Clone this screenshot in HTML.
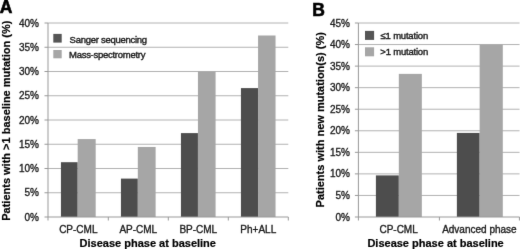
<!DOCTYPE html>
<html><head><meta charset="utf-8"><style>
html,body{margin:0;padding:0;background:#fff;width:520px;height:249px;overflow:hidden}
svg{display:block}
text{font-family:"Liberation Sans",sans-serif;fill:#1c1c1c}
.tk{font-size:10px;stroke:#1c1c1c;stroke-width:0.35px}
.lg{font-size:9.5px;letter-spacing:-0.27px;stroke:#1c1c1c;stroke-width:0.4px}
.lgb{font-size:9.5px;letter-spacing:-0.2px;stroke:#1c1c1c;stroke-width:0.4px}
.ti{font-size:11px;font-weight:bold;fill:#000;stroke:#000;stroke-width:0.2px}
.pl{font-size:17.5px;font-weight:bold;fill:#000;stroke:#000;stroke-width:0.6px}
</style></head><body>
<svg width="520" height="249" viewBox="0 0 520 249">
<defs><filter id="bl" x="0" y="0" width="520" height="249" filterUnits="userSpaceOnUse" color-interpolation-filters="sRGB"><feConvolveMatrix order="3" kernelMatrix="0.0052 0.0619 0.0052 0.0619 0.7314 0.0619 0.0052 0.0619 0.0052" divisor="1" edgeMode="duplicate"/></filter></defs>
<rect width="520" height="249" fill="#fff"/>
<g filter="url(#bl)">
<rect width="520" height="249" fill="#fff"/>
<line x1="48.0" y1="23.00" x2="288.3" y2="23.00" stroke="#b2b2b2"/>
<line x1="44.5" y1="23.00" x2="48.0" y2="23.00" stroke="#999999"/>
<text x="39" y="26.60" text-anchor="end" class="tk">40%</text>
<line x1="48.0" y1="47.25" x2="288.3" y2="47.25" stroke="#b2b2b2"/>
<line x1="44.5" y1="47.25" x2="48.0" y2="47.25" stroke="#999999"/>
<text x="39" y="50.85" text-anchor="end" class="tk">35%</text>
<line x1="48.0" y1="71.50" x2="288.3" y2="71.50" stroke="#b2b2b2"/>
<line x1="44.5" y1="71.50" x2="48.0" y2="71.50" stroke="#999999"/>
<text x="39" y="75.10" text-anchor="end" class="tk">30%</text>
<line x1="48.0" y1="95.75" x2="288.3" y2="95.75" stroke="#b2b2b2"/>
<line x1="44.5" y1="95.75" x2="48.0" y2="95.75" stroke="#999999"/>
<text x="39" y="99.35" text-anchor="end" class="tk">25%</text>
<line x1="48.0" y1="120.00" x2="288.3" y2="120.00" stroke="#b2b2b2"/>
<line x1="44.5" y1="120.00" x2="48.0" y2="120.00" stroke="#999999"/>
<text x="39" y="123.60" text-anchor="end" class="tk">20%</text>
<line x1="48.0" y1="144.25" x2="288.3" y2="144.25" stroke="#b2b2b2"/>
<line x1="44.5" y1="144.25" x2="48.0" y2="144.25" stroke="#999999"/>
<text x="39" y="147.85" text-anchor="end" class="tk">15%</text>
<line x1="48.0" y1="168.50" x2="288.3" y2="168.50" stroke="#b2b2b2"/>
<line x1="44.5" y1="168.50" x2="48.0" y2="168.50" stroke="#999999"/>
<text x="39" y="172.10" text-anchor="end" class="tk">10%</text>
<line x1="48.0" y1="192.75" x2="288.3" y2="192.75" stroke="#b2b2b2"/>
<line x1="44.5" y1="192.75" x2="48.0" y2="192.75" stroke="#999999"/>
<text x="39" y="196.35" text-anchor="end" class="tk">5%</text>
<line x1="44.5" y1="217.00" x2="48.0" y2="217.00" stroke="#999999"/>
<text x="39" y="220.60" text-anchor="end" class="tk">0%</text>
<rect x="60.94" y="162.20" width="16.74" height="54.80" fill="#4d4d4d"/>
<rect x="77.68" y="139.07" width="18.00" height="77.93" fill="#a6a6a6"/>
<text x="78.30" y="233" text-anchor="middle" class="tk">CP-CML</text>
<rect x="120.94" y="178.60" width="16.87" height="38.40" fill="#4d4d4d"/>
<rect x="137.81" y="146.95" width="17.82" height="70.05" fill="#a6a6a6"/>
<text x="138.30" y="233" text-anchor="middle" class="tk">AP-CML</text>
<rect x="180.94" y="133.10" width="17.00" height="83.90" fill="#4d4d4d"/>
<rect x="197.94" y="71.50" width="17.64" height="145.50" fill="#a6a6a6"/>
<text x="198.30" y="233" text-anchor="middle" class="tk">BP-CML</text>
<rect x="240.94" y="88.10" width="17.13" height="128.90" fill="#4d4d4d"/>
<rect x="258.07" y="35.50" width="17.46" height="181.50" fill="#a6a6a6"/>
<text x="258.30" y="233" text-anchor="middle" class="tk">Ph+ALL</text>
<line x1="48.00" y1="217.0" x2="48.00" y2="220.5" stroke="#999999"/>
<line x1="108.30" y1="217.0" x2="108.30" y2="220.5" stroke="#999999"/>
<line x1="168.30" y1="217.0" x2="168.30" y2="220.5" stroke="#999999"/>
<line x1="228.30" y1="217.0" x2="228.30" y2="220.5" stroke="#999999"/>
<line x1="288.30" y1="217.0" x2="288.30" y2="220.5" stroke="#999999"/>
<line x1="48.0" y1="23.0" x2="48.0" y2="217.0" stroke="#999999"/>
<line x1="48.0" y1="217.0" x2="288.3" y2="217.0" stroke="#999999"/>
<rect x="53.3" y="33.9" width="8.4" height="8.7" fill="#555"/>
<rect x="53.3" y="50" width="8.4" height="8.3" fill="#a6a6a6"/>
<text x="69.6" y="42.8" class="lg">Sanger sequencing</text>
<text x="69.0" y="58.3" class="lg">Mass-spectrometry</text>
<text x="79.6" y="246.9" class="ti">Disease phase at baseline</text>
<text transform="translate(10.4,120.7) rotate(-90)" text-anchor="middle" class="ti">Patients with &gt;1 baseline mutation (%)</text>
<text x="-0.3" y="13.0" class="pl">A</text>
<line x1="358.4" y1="23.00" x2="519.5" y2="23.00" stroke="#b2b2b2"/>
<line x1="354.9" y1="23.00" x2="358.4" y2="23.00" stroke="#999999"/>
<text x="350" y="26.60" text-anchor="end" class="tk">45%</text>
<line x1="358.4" y1="44.56" x2="519.5" y2="44.56" stroke="#b2b2b2"/>
<line x1="354.9" y1="44.56" x2="358.4" y2="44.56" stroke="#999999"/>
<text x="350" y="48.16" text-anchor="end" class="tk">40%</text>
<line x1="358.4" y1="66.11" x2="519.5" y2="66.11" stroke="#b2b2b2"/>
<line x1="354.9" y1="66.11" x2="358.4" y2="66.11" stroke="#999999"/>
<text x="350" y="69.71" text-anchor="end" class="tk">35%</text>
<line x1="358.4" y1="87.67" x2="519.5" y2="87.67" stroke="#b2b2b2"/>
<line x1="354.9" y1="87.67" x2="358.4" y2="87.67" stroke="#999999"/>
<text x="350" y="91.27" text-anchor="end" class="tk">30%</text>
<line x1="358.4" y1="109.22" x2="519.5" y2="109.22" stroke="#b2b2b2"/>
<line x1="354.9" y1="109.22" x2="358.4" y2="109.22" stroke="#999999"/>
<text x="350" y="112.82" text-anchor="end" class="tk">25%</text>
<line x1="358.4" y1="130.78" x2="519.5" y2="130.78" stroke="#b2b2b2"/>
<line x1="354.9" y1="130.78" x2="358.4" y2="130.78" stroke="#999999"/>
<text x="350" y="134.38" text-anchor="end" class="tk">20%</text>
<line x1="358.4" y1="152.33" x2="519.5" y2="152.33" stroke="#b2b2b2"/>
<line x1="354.9" y1="152.33" x2="358.4" y2="152.33" stroke="#999999"/>
<text x="350" y="155.93" text-anchor="end" class="tk">15%</text>
<line x1="358.4" y1="173.89" x2="519.5" y2="173.89" stroke="#b2b2b2"/>
<line x1="354.9" y1="173.89" x2="358.4" y2="173.89" stroke="#999999"/>
<text x="350" y="177.49" text-anchor="end" class="tk">10%</text>
<line x1="358.4" y1="195.44" x2="519.5" y2="195.44" stroke="#b2b2b2"/>
<line x1="354.9" y1="195.44" x2="358.4" y2="195.44" stroke="#999999"/>
<text x="350" y="199.04" text-anchor="end" class="tk">5%</text>
<line x1="354.9" y1="217.00" x2="358.4" y2="217.00" stroke="#999999"/>
<text x="350" y="220.60" text-anchor="end" class="tk">0%</text>
<rect x="375.90" y="175.40" width="22.92" height="41.60" fill="#4d4d4d"/>
<rect x="398.82" y="73.87" width="23.02" height="143.13" fill="#a6a6a6"/>
<text x="398.60" y="233" text-anchor="middle" class="tk">CP-CML</text>
<rect x="456.88" y="132.93" width="22.76" height="84.07" fill="#4d4d4d"/>
<rect x="479.64" y="44.56" width="23.16" height="172.44" fill="#a6a6a6"/>
<text x="479.40" y="233" text-anchor="middle" class="tk">Advanced phase</text>
<line x1="358.40" y1="217.0" x2="358.40" y2="220.5" stroke="#999999"/>
<line x1="439.40" y1="217.0" x2="439.40" y2="220.5" stroke="#999999"/>
<line x1="519.40" y1="217.0" x2="519.40" y2="220.5" stroke="#999999"/>
<line x1="358.4" y1="23.0" x2="358.4" y2="217.0" stroke="#999999"/>
<line x1="358.4" y1="217.0" x2="519.5" y2="217.0" stroke="#999999"/>
<rect x="365" y="30.9" width="9.1" height="9" fill="#555"/>
<rect x="365" y="47.3" width="9.1" height="9" fill="#a6a6a6"/>
<text x="380.6" y="39.3" class="lgb">≤1 mutation</text>
<text x="380.3" y="55.1" class="lgb">&gt;1 mutation</text>
<text x="367.4" y="246.9" class="ti">Disease phase at baseline</text>
<text transform="translate(323.5,119.75) rotate(-90)" text-anchor="middle" class="ti">Patients with new mutation(s) (%)</text>
<text x="312.2" y="15.5" class="pl">B</text>
</g>
</svg>
</body></html>
